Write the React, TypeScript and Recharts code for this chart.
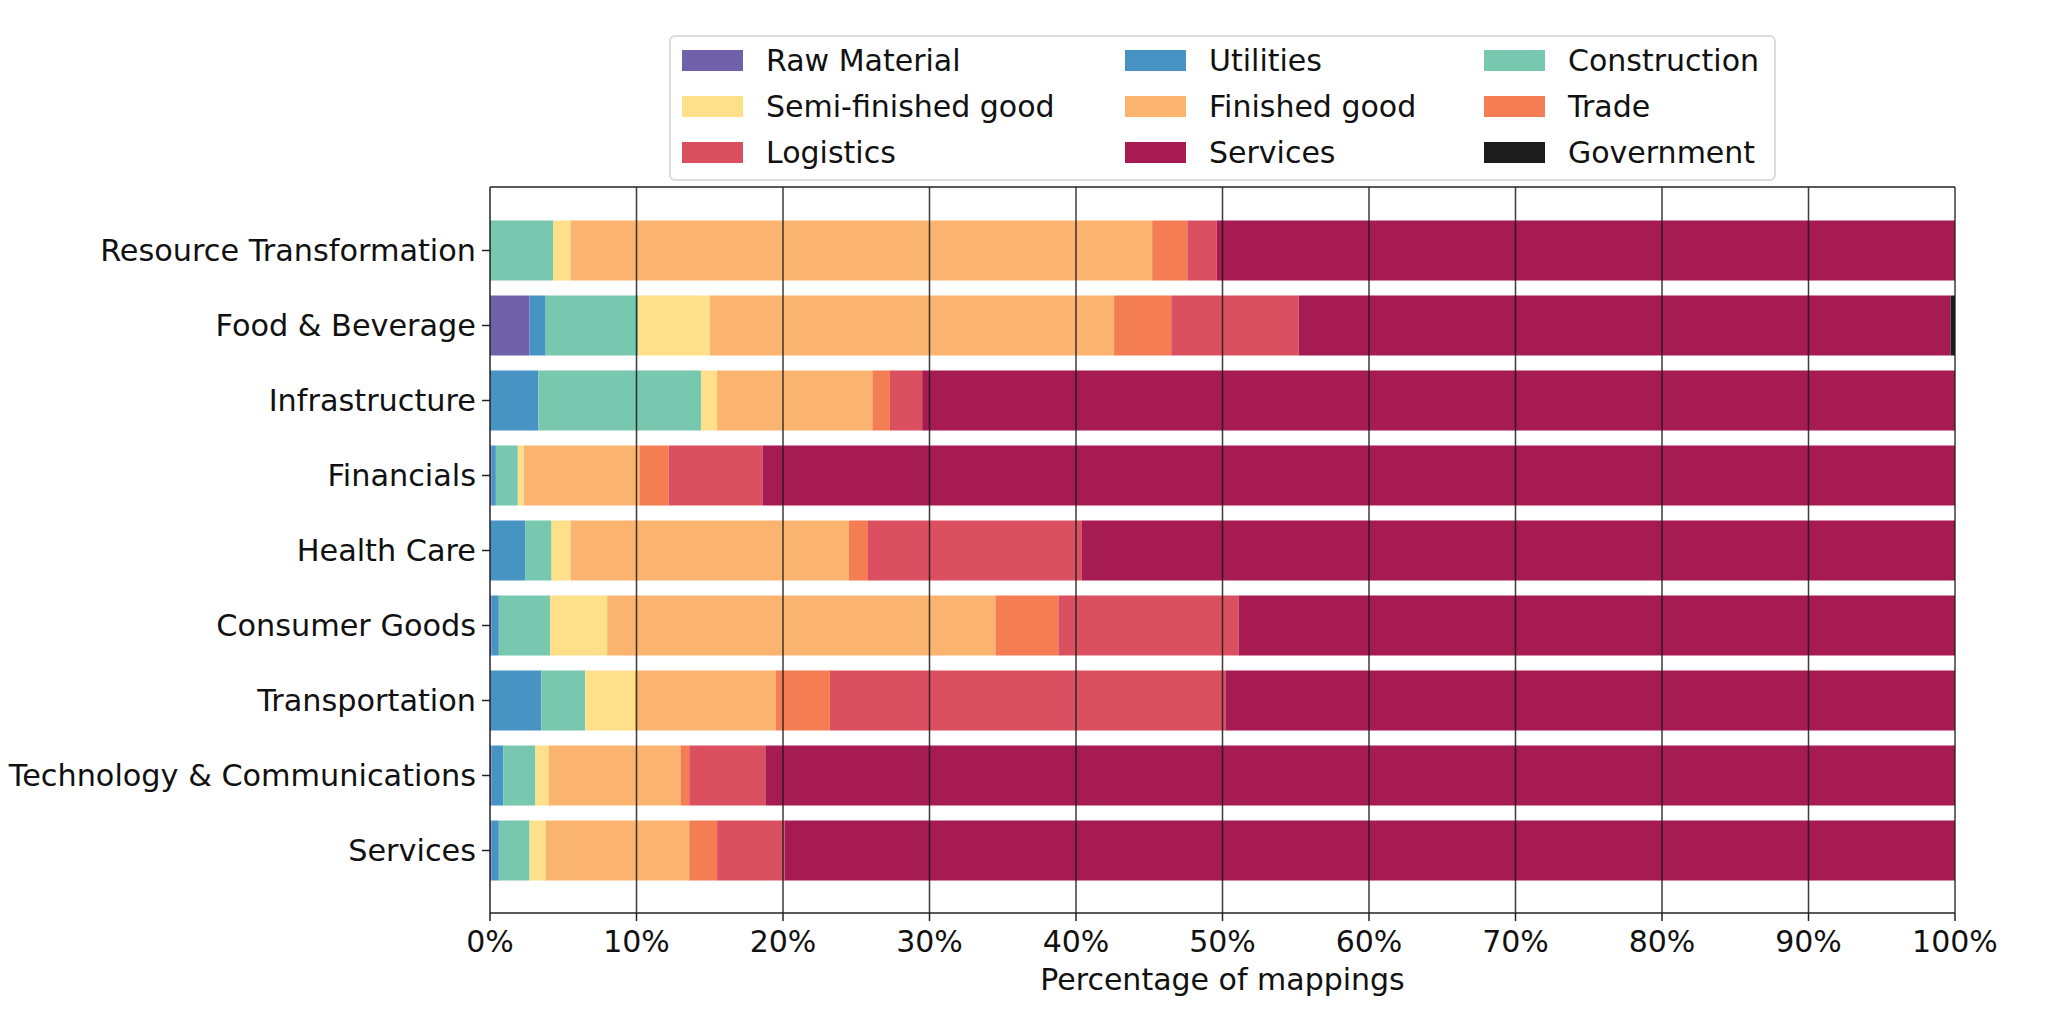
import { BarChart, Bar, XAxis, YAxis, Legend, ReferenceLine } from 'recharts';

// Sectors, top to bottom
const sectors = [
  'Resource Transformation',
  'Food & Beverage',
  'Infrastructure',
  'Financials',
  'Health Care',
  'Consumer Goods',
  'Transportation',
  'Technology & Communications',
  'Services',
];

// share of mappings (%) per category, same order as sectors
const rawMaterial = [0, 2.7, 0, 0.1, 0, 0.1, 0, 0.1, 0.1];
const utilities = [0, 1.1, 3.3, 0.3, 2.4, 0.5, 3.5, 0.8, 0.5];
const construction = [4.3, 6.3, 11.1, 1.5, 1.8, 3.5, 3.0, 2.2, 2.1];
const semiFinished = [1.2, 4.9, 1.1, 0.4, 1.3, 3.9, 3.4, 0.9, 1.1];
const finishedGood = [39.7, 27.6, 10.6, 7.9, 19.0, 26.5, 9.6, 9.0, 9.8];
const trade = [2.4, 3.9, 1.2, 2.0, 1.3, 4.3, 3.7, 0.6, 1.9];
const logistics = [2.0, 8.7, 2.2, 6.4, 14.6, 12.3, 27.0, 5.2, 4.6];
const services = [50.4, 44.5, 70.5, 81.4, 59.6, 48.9, 49.8, 81.2, 79.9];
const government = [0, 0.3, 0, 0, 0, 0, 0, 0, 0];

const xTicks = [0, 10, 20, 30, 40, 50, 60, 70, 80, 90, 100];

const series = [
  { key: 'raw', name: 'Raw Material', values: rawMaterial, color: '#7161ab' },
  { key: 'util', name: 'Utilities', values: utilities, color: '#4793c4' },
  { key: 'cons', name: 'Construction', values: construction, color: '#77c8ae' },
  { key: 'semi', name: 'Semi-finished good', values: semiFinished, color: '#fee08b' },
  { key: 'fin', name: 'Finished good', values: finishedGood, color: '#fbb470' },
  { key: 'trade', name: 'Trade', values: trade, color: '#f57d53' },
  { key: 'log', name: 'Logistics', values: logistics, color: '#da5060' },
  { key: 'serv', name: 'Services', values: services, color: '#a61b52' },
  { key: 'gov', name: 'Government', values: government, color: '#1c1c1c' },
];

const data = sectors.map((name, i) => {
  const row: Record<string, string | number> = { name };
  series.forEach(s => { row[s.key] = s.values[i]; });
  return row;
});

const FONT = '"DejaVu Sans", sans-serif';
const colWidths = [443, 359, 280];

function renderLegend(props: any) {
  // keep the series order (recharts sorts the payload by name)
  const order = series.map(s => s.name);
  const items = [...(props.payload || [])].sort(
    (a: any, b: any) => order.indexOf(a.value) - order.indexOf(b.value)
  );
  return (
    <div
      style={{
        boxSizing: 'border-box',
        width: 1107,
        height: 146,
        border: '2px solid #dcdcdc',
        borderRadius: 6,
        background: '#fff',
        padding: '0 0 0 11px',
        display: 'grid',
        gridTemplateColumns: colWidths.map(w => `${w}px`).join(' '),
        gridAutoRows: '46px',
        fontFamily: FONT,
        fontSize: 30,
        color: '#111',
      }}
    >
      {items.map((item: any) => (
        <div key={item.value} style={{ display: 'flex', alignItems: 'center' }}>
          <span style={{ width: 61, height: 21, background: item.color, marginRight: 23, flex: 'none' }} />
          <span style={{ whiteSpace: 'nowrap' }}>{item.value}</span>
        </div>
      ))}
    </div>
  );
}

export default function App() {
  return (
    <div style={{ width: 2048, height: 1036, background: '#fff', position: 'relative' }}>
      <style>{'body { margin: 0; }'}</style>
      <BarChart
        width={2048}
        height={1036}
        data={data}
        layout="vertical"
        barCategoryGap="10%"
        margin={{ top: 186, right: 93, bottom: 43, left: 0 }}
      >
        <XAxis
          type="number"
          domain={[0, 100]}
          ticks={xTicks}
          allowDataOverflow
          tickFormatter={(v) => `${v}%`}
          tick={{ fontSize: 30, fill: '#111', fontFamily: FONT }}
          tickSize={8}
          tickMargin={10}
          height={80}
          axisLine={{ stroke: '#222', strokeWidth: 1.5 }}
          tickLine={{ stroke: '#222', strokeWidth: 1.5 }}
          label={{
            value: 'Percentage of mappings',
            position: 'insideBottom',
            offset: 3,
            fill: '#111',
            fontSize: 30,
            fontFamily: FONT,
          }}
        />
        <XAxis
          xAxisId="top"
          orientation="top"
          type="number"
          domain={[0, 100]}
          height={1}
          tick={false}
          tickLine={false}
          axisLine={{ stroke: '#222', strokeWidth: 1.5 }}
        />
        <YAxis
          type="category"
          dataKey="name"
          width={490}
          padding={{ top: 26, bottom: 25 }}
          tick={{ fontSize: 30.3, fill: '#111', fontFamily: FONT }}
          tickSize={8}
          tickMargin={6}
          interval={0}
          axisLine={{ stroke: '#222', strokeWidth: 1.5 }}
          tickLine={{ stroke: '#222', strokeWidth: 1.5 }}
        />
        <Legend
          layout="horizontal"
          verticalAlign="middle"
          align="center"
          content={renderLegend}
          wrapperStyle={{ left: 669, top: 35, width: 1107, height: 146 }}
        />
        {series.map(s => (
          <Bar
            key={s.key}
            dataKey={s.key}
            name={s.name}
            stackId="a"
            fill={s.color}
            isAnimationActive={false}
          />
        ))}
        {xTicks.slice(1).map(t => (
          <ReferenceLine key={t} x={t} stroke="#1a1a1a" strokeWidth={1.5} strokeOpacity={0.85} />
        ))}
      </BarChart>
    </div>
  );
}
